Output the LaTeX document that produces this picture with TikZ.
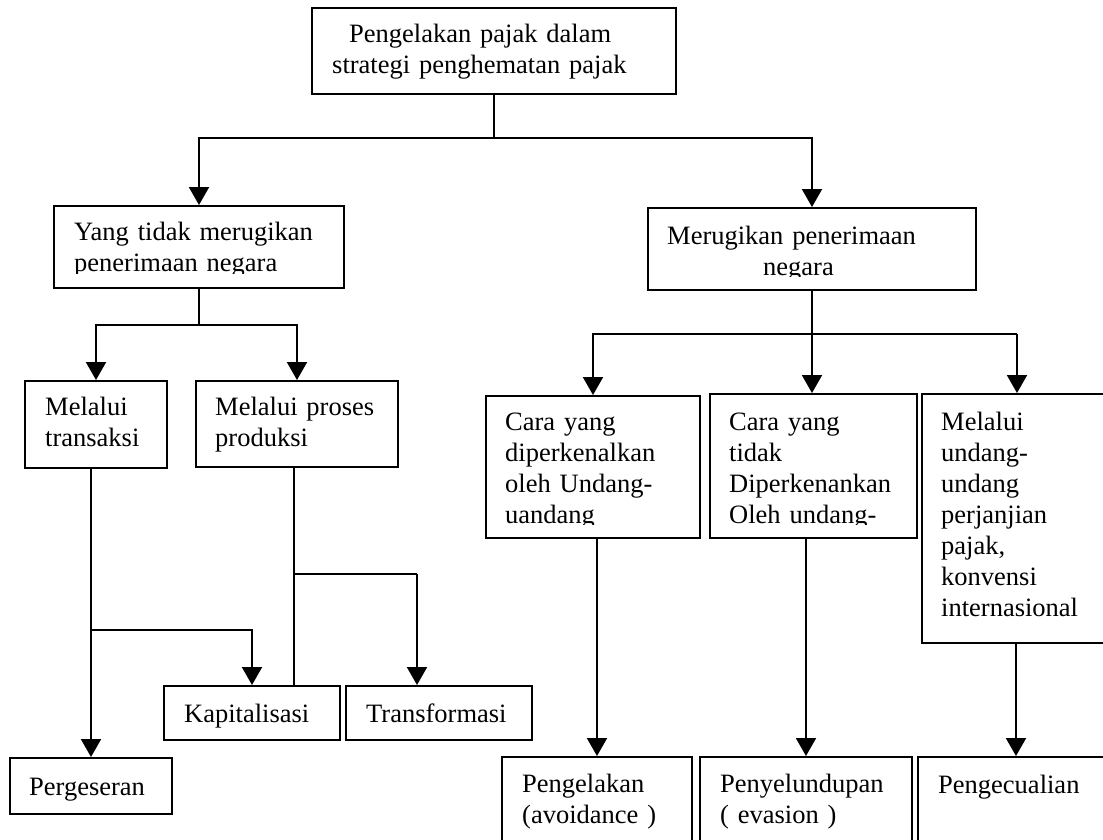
\documentclass[tikz,border=0pt]{standalone}
\usepackage{fontspec}
\setmainfont{Liberation Serif}
\usetikzlibrary{arrows.meta}
\begin{document}
\begin{tikzpicture}[x=1pt,y=-1pt,
  box/.style={draw, line width=2pt, inner sep=0pt, anchor=north west},
  txt/.style={inner sep=0pt, anchor=base west, text width=300pt, align=left, font=\fontsize{26.5}{31}\selectfont},
  conn/.style={line width=2pt},
  arr/.style={conn, -{Triangle[length=18pt,width=20pt]}}]
\useasboundingbox (0,0) rectangle (1103,839);
\clip (0,0) rectangle (1103,839);
% boxes
\node[box, minimum width=364pt, minimum height=86pt] (top) at (311,7) {};
\node[box, minimum width=290pt, minimum height=82pt] (yang) at (53,205) {};
\node[box, minimum width=142pt, minimum height=87pt] (trans) at (24,380) {};
\node[box, minimum width=202pt, minimum height=86pt] (prod) at (195,380) {};
\node[box, minimum width=176pt, minimum height=54pt] (kap) at (163,685) {};
\node[box, minimum width=186pt, minimum height=54pt] (trf) at (345,685) {};
\node[box, minimum width=162pt, minimum height=56pt] (perg) at (9,757) {};
\node[box, minimum width=328pt, minimum height=82pt] (rug) at (647,207) {};
\node[box, minimum width=214pt, minimum height=142pt] (c1) at (485,395) {};
\node[box, minimum width=207pt, minimum height=144pt] (c2) at (709,393) {};
\node[box, minimum width=220pt, minimum height=249pt] (c3) at (921,393) {};
\node[box, minimum width=190pt, minimum height=110pt] (p1) at (501,756) {};
\node[box, minimum width=212pt, minimum height=110pt] (p2) at (699,756) {};
\node[box, minimum width=220pt, minimum height=110pt] (p3) at (917,756) {};
% texts
\node[txt] (topT) at (332,42) {\hspace*{17pt}Pengelakan pajak dalam\\strategi penghematan pajak};
\begin{scope}
\clip (53,205) rectangle (343,273);
\node[txt] (yangT) at (74,240) {Yang tidak merugikan\\penerimaan negara};
\end{scope}
\node[txt] (transT) at (45,415) {Melalui\\transaksi};
\node[txt] (prodT) at (215,415) {Melalui proses\\produksi};
\node[txt] (kapT) at (184,722) {Kapitalisasi};
\node[txt] (trfT) at (366,722) {Transformasi};
\node[txt] (pergT) at (29,795) {Pergeseran};
\begin{scope}
\clip (647,207) rectangle (976,276);
\node[txt] (rugT) at (667,244) {Merugikan penerimaan\\\hspace*{96pt}negara};
\end{scope}
\begin{scope}
\clip (485,395) rectangle (916,524);
\node[txt] (c1T) at (505,430) {Cara yang\\diperkenalkan\\oleh Undang-\\uandang};
\node[txt] (c2T) at (729,430) {Cara yang\\tidak\\Diperkenankan\\Oleh undang-};
\end{scope}
\node[txt] (c3T) at (941,430) {Melalui\\undang-\\undang\\perjanjian\\pajak,\\konvensi\\internasional};
\node[txt] (p1T) at (522,792) {Pengelakan\\(avoidance )};
\node[txt] (p2T) at (720,792) {Penyelundupan\\( evasion )};
\node[txt] (p3T) at (938,793) {Pengecualian};
% connectors
\path (top.south) ++(0,43) coordinate (j1);
\draw[conn] (top.south) -- (j1);
\draw[arr] (j1) -| (yang.north);
\draw[arr] (j1) -| (rug.north);
\path (yang.south) ++(0,36) coordinate (j2);
\draw[conn] (yang.south) -- (j2);
\draw[arr] (j2) -| (trans.north);
\draw[arr] (j2) -| (prod.north);
\draw[arr] (trans.south -| perg.north) -- (perg.north);
\coordinate (j3) at (90,630);
\draw[arr] (j3) -| (kap.north);
\coordinate (j4) at (294,574);
\draw[conn] (j4 |- prod.south) -- (j4 |- kap.north);
\coordinate (j5) at (417,574);
\draw[conn] (j4) -- (j5);
\draw[arr] (j5) -- (j5 |- trf.north);
\path (rug.south) ++(0,43) coordinate (j6);
\draw[conn] (rug.south) -- (j6);
\draw[arr] (j6) -| (c1.north);
\draw[arr] (j6) -- (j6 |- c2.north);
\coordinate (x7) at (1017,0);
\coordinate (j7) at (j6 -| x7);
\draw[conn] (j6) -- (j7);
\draw[arr] (j7) -- (j7 |- c3.north);
\draw[arr] (c1.south -| p1.north) -- (p1.north);
\draw[arr] (c2.south -| p2.north) -- (p2.north);
\coordinate (x3) at (1016,0);
\draw[arr] (c3.south -| x3) -- (p3.north -| x3);
\end{tikzpicture}
\end{document}
